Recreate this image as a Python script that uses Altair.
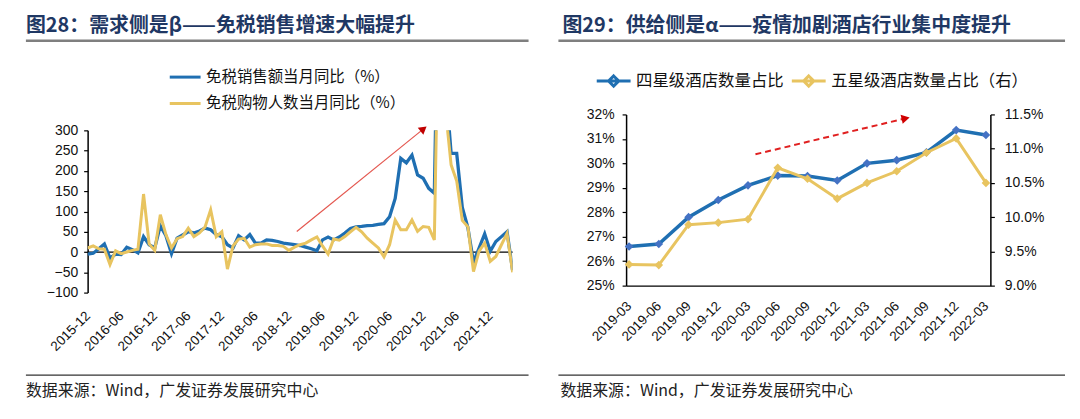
import json
import altair as alt
import pandas as pd

# ---------------- fonts / colours ----------------
FONT = "Liberation Sans"
CJK = "Noto Sans CJK SC"
BLUE = "#1F6FB2"
BLUE_MARK = "#4472C4"
GOLD = "#E8C460"
TITLE_C = "#1F3864"

# ---------------- left panel data (monthly, 2015-12 .. 2022-04) ----------------
left_tick_labels = ["2015-12", "2016-06", "2016-12", "2017-06", "2017-12", "2018-06",
                    "2018-12", "2019-06", "2019-12", "2020-06", "2020-12", "2021-06", "2021-12"]
sales_yoy = [-5, -3, 8, 20, -15, -5, -6, 12, 6, -2,
             38, 18, 10, 65, 40, -4, 34, 42, 50, 47,
             52, 59, 55, 43, 38, 18, 10, 40, 30, 43,
             22, 22, 30, 29, 26, 22, 20, 18, 16, 12,
             8, 3, 30, 37, 30, 37, 47, 58, 62, 63,
             65, 66, 68, 70, 87, 132, 231, 220, 239, 190,
             182, 157, 145, 900, 420, 243, 243, 110, 60, -25,
             10, 45, 2, 26, 38, 50, -45]
visitors_yoy = [10, 15, 8, 7, -31, 3, -4, 0, 4, 7,
                143, 20, 4, 92, 43, 10, 33, 38, 59, 38,
                47, 62, 104, 38, 50, -42, 15, 32, 34, 12,
                18, 20, 20, 16, 16, 14, 4, 12, 18, 22,
                30, 37, 15, -5, 32, 29, 38, 50, 61, 50,
                34, 22, 10, -12, 18, 79, 55, 55, 79, 51,
                63, 61, 30, 800, 350, 215, 175, 78, 62, -48,
                2, 22, -23, -11, 18, 46, -50]
S1 = "免税销售额当月同比（%）"
S2 = "免税购物人数当月同比（%）"
left_y_ticks = [-100, -50, 0, 50, 100, 150, 200, 250, 300]
arrow_l_x = [37.4, 60.07]
arrow_l_y = [50.5, 303.7]

# ---------------- right panel data (quarterly) ----------------
quarters = ["2019-03", "2019-06", "2019-09", "2019-12", "2020-03", "2020-06", "2020-09",
            "2020-12", "2021-03", "2021-06", "2021-09", "2021-12", "2022-03"]
four_star = [26.6, 26.7, 27.8, 28.5, 29.1, 29.5, 29.48, 29.3, 30.0, 30.13, 30.45, 31.36, 31.16]
five_star = [9.31, 9.30, 9.89, 9.92, 9.97, 10.72, 10.56, 10.27, 10.50, 10.67, 10.94, 11.15, 10.50]
R1 = "四星级酒店数量占比"
R2 = "五星级酒店数量占比（右）"
right_left_ticks = [0.25, 0.26, 0.27, 0.28, 0.29, 0.30, 0.31, 0.32]
right_right_ticks = [0.09, 0.095, 0.10, 0.105, 0.11, 0.115]
arrow_r_x = [4.25, 9.30]
arrow_r_y = [0.3037, 0.3184]

TITLE_L = "图28：需求侧是β——免税销售增速大幅提升"
TITLE_R = "图29：供给侧是α——疫情加剧酒店行业集中度提升"
SOURCE = "数据来源：Wind，广发证券发展研究中心"


def deco_text(text, x, y, size, weight, color, font):
    return alt.Chart(pd.DataFrame({"t": [text]})).mark_text(
        align="left", baseline="middle", font=font, fontSize=size,
        fontWeight=weight, color=color
    ).encode(x=alt.value(x), y=alt.value(y), text="t:N")


def deco_rule(x1, x2, y, color, width):
    return alt.Chart(pd.DataFrame({"a": [0]})).mark_rule(
        color=color, strokeWidth=width
    ).encode(x=alt.value(x1), x2=alt.value(x2), y=alt.value(y))


# ================= LEFT PANEL =================
WL, HL = 427, 163
n = len(sales_yoy)
df_left = pd.DataFrame({
    "idx": list(range(n)) * 2,
    "value": sales_yoy + visitors_yoy,
    "series": [S1] * n + [S2] * n,
})

xsc_l = alt.Scale(domain=[0, n - 1], nice=False, zero=False)
ysc_l = alt.Scale(domain=[-100, 300], nice=False, zero=False)

lab_expr_l = json.dumps(left_tick_labels, ensure_ascii=False) + "[round(datum.value/6)]"
x_axis_l = alt.Axis(values=list(range(0, 73, 6)), labelExpr=lab_expr_l, labelAngle=315,
                    labelAlign="right", labelBaseline="middle", domain=False, ticks=False,
                    grid=False, labelPadding=21, labelFont=FONT, labelFontSize=13.5,
                    labelColor="#111111", title=None, labelOverlap=False, labelFlush=False)
y_axis_l = alt.Axis(values=left_y_ticks, grid=False, domainColor="black", domainWidth=1.5,
                    tickColor="black", tickSize=4, tickWidth=1.2, labelPadding=6,
                    labelFont=FONT, labelFontSize=14, labelColor="#111111", title=None,
                    labelOverlap=False, labelFlush=False)

legend_l = alt.Legend(title=None, orient="none", legendX=88.5, legendY=-63, direction="vertical",
                      symbolType="M-2,0L2,0", symbolSize=240, symbolStrokeWidth=3,
                      labelFont=CJK, labelFontSize=15.5, labelColor="#111111", labelLimit=400,
                      rowPadding=8.5, labelOffset=11.5, padding=0)
color_l = alt.Color("series:N", scale=alt.Scale(domain=[S1, S2], range=[BLUE, GOLD]), legend=legend_l)

XL = alt.X("idx:Q", scale=xsc_l, axis=x_axis_l)
YL = alt.Y("value:Q", scale=ysc_l, axis=y_axis_l)

zero_l = alt.Chart(pd.DataFrame({"value": [0]})).mark_rule(color="black", strokeWidth=1.3).encode(
    y=YL)
blue_l = alt.Chart(df_left).transform_filter(alt.datum.series == S1).mark_line(
    strokeWidth=3.3, clip=True).encode(x=XL, y=YL, color=color_l)
gold_l = alt.Chart(df_left).transform_filter(alt.datum.series == S2).mark_line(
    strokeWidth=3, clip=True).encode(x=XL, y=YL, color=color_l)

df_arrow_l = pd.DataFrame({"idx": [arrow_l_x[0]], "value": [arrow_l_y[0]],
                           "idx2": [arrow_l_x[1]], "value2": [arrow_l_y[1]]})
arrow_line_l = alt.Chart(df_arrow_l).mark_rule(color="#E4574F", strokeWidth=1.2).encode(
    x=XL, y=YL, x2="idx2:Q", y2="value2:Q")
arrow_head_l = alt.Chart(df_arrow_l).mark_point(
    shape="triangle-up", filled=True, size=80, angle=51, color="#C00000", opacity=1).encode(
    x=alt.X("idx2:Q", scale=xsc_l, axis=x_axis_l), y=alt.Y("value2:Q", scale=ysc_l, axis=y_axis_l))

left_plot = alt.layer(
    zero_l, blue_l, gold_l, arrow_line_l, arrow_head_l,
    deco_text(TITLE_L, -62, -105, 20, "bold", TITLE_C, CJK),
    deco_rule(-62, 443, -90, "#7F7F7F", 2.5),
    deco_rule(-62, 443, 246, "#333333", 1.2),
    deco_text(SOURCE, -62, 262, 16, "normal", "#222222", CJK),
).properties(width=WL, height=HL)

# empty band that lowers the left plot area relative to the right one
spacer = alt.Chart(pd.DataFrame({"a": [0]})).mark_point(opacity=0).encode(
    x=alt.value(0), y=alt.value(0)).properties(width=WL, height=16)

left = alt.vconcat(spacer, left_plot, spacing=0, bounds="flush").resolve_scale(
    color="independent").resolve_legend(color="independent")

# ================= RIGHT PANEL =================
WR, HR = 366, 172
m = len(quarters)
df4 = pd.DataFrame({"q": list(range(m)), "v": [v / 100 for v in four_star], "series": [R1] * m})
df5 = pd.DataFrame({"q": list(range(m)), "w": [v / 100 for v in five_star], "series": [R2] * m})

xsc_r = alt.Scale(domain=[-0.1, 12.15], nice=False, zero=False)
ysc_r1 = alt.Scale(domain=[0.25, 0.32], nice=False, zero=False)
ysc_r2 = alt.Scale(domain=[0.09, 0.115], nice=False, zero=False)

lab_expr_r = json.dumps(quarters, ensure_ascii=False) + "[round(datum.value)]"
x_axis_r = alt.Axis(values=list(range(m)), labelExpr=lab_expr_r, labelAngle=315,
                    labelAlign="right", labelBaseline="middle", domain=True, domainColor="black",
                    domainWidth=1.5, ticks=False, grid=False, labelPadding=18, labelFont=FONT,
                    labelFontSize=13.5, labelColor="#111111", title=None, labelOverlap=False,
                    labelFlush=False)
y_axis_r1 = alt.Axis(values=right_left_ticks, format=".0%", grid=False, domainColor="black",
                     domainWidth=1.5, tickColor="black", tickSize=4, tickWidth=1.2,
                     labelPadding=8, labelFont=FONT, labelFontSize=14, labelColor="#111111",
                     title=None, labelOverlap=False, labelFlush=False)
y_axis_r2 = alt.Axis(orient="right", values=right_right_ticks, format=".1%", grid=False,
                     domainColor="black", domainWidth=1.5, tickColor="black", tickSize=4,
                     tickWidth=1.2, labelPadding=10, labelFont=FONT, labelFontSize=14,
                     labelColor="#111111", title=None, labelOverlap=False, labelFlush=False)

legend_r = alt.Legend(title=None, orient="none", legendX=-22.5, legendY=-44, direction="horizontal",
                      symbolType="M-2,0L2,0M0,-0.6L0.6,0L0,0.6L-0.6,0Z", symbolSize=289,
                      symbolStrokeWidth=3, labelFont=CJK, labelFontSize=16.5,
                      labelColor="#111111", labelLimit=400, columnPadding=2, labelOffset=12.5,
                      padding=0)
color_r = alt.Color("series:N", scale=alt.Scale(domain=[R1, R2], range=[BLUE, GOLD]), legend=legend_r)

XR = alt.X("q:Q", scale=xsc_r, axis=x_axis_r)
YR1 = alt.Y("v:Q", scale=ysc_r1, axis=y_axis_r1)
YR2 = alt.Y("w:Q", scale=ysc_r2, axis=y_axis_r2)

line4 = alt.Chart(df4).mark_line(strokeWidth=3.5).encode(x=XR, y=YR1, color=color_r)
pts4 = alt.Chart(df4).mark_point(shape="diamond", filled=True, size=75, color=BLUE_MARK,
                                 opacity=1).encode(x=XR, y=YR1)
df_arrow_r = pd.DataFrame({"q": [arrow_r_x[0]], "v": [arrow_r_y[0]],
                           "q2": [arrow_r_x[1]], "v2": [arrow_r_y[1]]})
arrow_line_r = alt.Chart(df_arrow_r).mark_rule(color="#E02020", strokeWidth=2,
                                               strokeDash=[6, 4]).encode(
    x=XR, y=YR1, x2="q2:Q", y2="v2:Q")
arrow_head_r = alt.Chart(df_arrow_r).mark_point(
    shape="triangle-up", filled=True, size=90, angle=77, color="#D00000", opacity=1).encode(
    x=alt.X("q2:Q", scale=xsc_r, axis=x_axis_r), y=alt.Y("v2:Q", scale=ysc_r1, axis=y_axis_r1))

group4 = alt.layer(line4, pts4, arrow_line_r, arrow_head_r)

line5 = alt.Chart(df5).mark_line(strokeWidth=3).encode(x=XR, y=YR2, color=color_r)
pts5 = alt.Chart(df5).mark_point(shape="diamond", filled=True, size=75, color=GOLD,
                                 opacity=1).encode(x=XR, y=YR2)
group5 = alt.layer(line5, pts5)

right = alt.layer(
    group4, group5,
    deco_text(TITLE_R, -64, -89, 20, "bold", TITLE_C, CJK),
    deco_rule(-68, 441, -74, "#7F7F7F", 2.5),
    deco_rule(-68, 441, 262, "#333333", 1.2),
    deco_text(SOURCE, -66, 278, 16, "normal", "#222222", CJK),
).resolve_scale(y="independent").properties(width=WR, height=HR)

chart = alt.hconcat(left, right, spacing=26).resolve_scale(
    color="independent").resolve_legend(color="independent").properties(
    padding={"left": 16, "top": 7, "right": 5, "bottom": 5}
).configure_view(strokeWidth=0).configure_axis(labelOverlap=False)

chart.save("out.html", embed_options={"renderer": "svg", "actions": False})
